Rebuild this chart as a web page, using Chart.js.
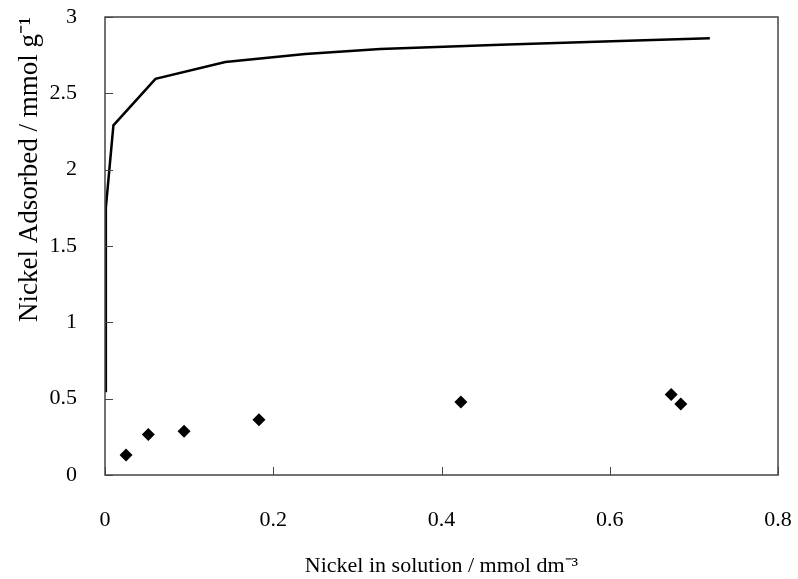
<!DOCTYPE html>
<html>
<head>
<meta charset="utf-8">
<script src="https://cdn.jsdelivr.net/npm/chart.js@4"></script>
<style>
  html, body { margin: 0; padding: 0; background: #fff; }
  #wrap { width: 798px; height: 579px; }
</style>
</head>
<body>
<div id="wrap"><canvas id="chart" width="798" height="579"></canvas></div>
<script>
// isotherm curve
const curveX = [0, 0.001, 0.01, 0.06, 0.143, 0.238, 0.327, 0.47, 0.612, 0.719];
const curveY = [0.55, 1.75, 2.29, 2.595, 2.705, 2.757, 2.79, 2.818, 2.842, 2.86];

// measured points
const pointX = [0.025, 0.0515, 0.094, 0.183, 0.423, 0.673, 0.6845];
const pointY = [0.131, 0.266, 0.286, 0.362, 0.478, 0.528, 0.465];

const xTicks = [0, 0.2, 0.4, 0.6, 0.8];
const yTicks = [0, 0.5, 1, 1.5, 2, 2.5, 3];

const font = 'Liberation Serif';

// inward tick marks + frame around the plot area
const frameTicks = {
    id: 'frameTicks',
    afterDraw(chart) {
        const ctx = chart.ctx;
        const a = chart.chartArea;
        const xs = chart.scales.x, ys = chart.scales.y;
        ctx.save();
        ctx.strokeStyle = '#444';
        ctx.lineWidth = 1.5;
        ctx.strokeRect(a.left, a.top, a.right - a.left, a.bottom - a.top);
        ctx.lineWidth = 1;
        ctx.beginPath();
        xTicks.forEach(v => {
            const px = Math.round(xs.getPixelForValue(v)) + 0.5;
            ctx.moveTo(px, a.bottom);
            ctx.lineTo(px, a.bottom - 8);
        });
        yTicks.forEach(v => {
            const py = Math.round(ys.getPixelForValue(v)) + 0.5;
            ctx.moveTo(a.left, py);
            ctx.lineTo(a.left + 8, py);
        });
        ctx.stroke();
        ctx.restore();
    }
};

new Chart(document.getElementById('chart'), {
    type: 'scatter',
    data: {
        datasets: [{
            type: 'line',
            data: curveX.map((x, i) => ({ x: x, y: curveY[i] })),
            borderColor: '#000',
            borderWidth: 2.5,
            pointRadius: 0,
            tension: 0,
            fill: false
        }, {
            data: pointX.map((x, i) => ({ x: x, y: pointY[i] })),
            pointStyle: 'rectRot',
            pointRadius: 6.5,
            backgroundColor: '#000',
            borderColor: '#000',
            borderWidth: 0
        }]
    },
    options: {
        responsive: false,
        animation: false,
        layout: { padding: { top: 17, right: 20, left: 0, bottom: 0 } },
        plugins: { legend: { display: false }, tooltip: { enabled: false } },
        scales: {
            x: {
                type: 'linear',
                min: 0, max: 0.8,
                afterBuildTicks: s => { s.ticks = xTicks.map(v => ({ value: v })); },
                afterFit: s => {
                    s.height = 104;
                    s.paddingLeft = 0;
                    s.paddingRight = 0;
                },
                grid: { display: false },
                border: { display: false },
                ticks: {
                    color: '#000',
                    font: { family: font, size: 22 },
                    padding: 24,
                    maxRotation: 0,
                    callback: v => String(v)
                },
                title: {
                    display: true,
                    text: 'Nickel in solution / mmol dm\u207B\u00B3',
                    color: '#000',
                    font: { family: font, size: 22 },
                    padding: { top: 10, bottom: 0 }
                }
            },
            y: {
                type: 'linear',
                min: 0, max: 3,
                afterBuildTicks: s => { s.ticks = yTicks.map(v => ({ value: v })); },
                afterFit: s => {
                    s.width = 105;
                    s.paddingTop = 0;
                    s.paddingBottom = 0;
                },
                grid: { display: false },
                border: { display: false },
                ticks: {
                    color: '#000',
                    font: { family: font, size: 22 },
                    padding: 20,
                    callback: v => String(v)
                },
                title: {
                    display: true,
                    align: 'end',
                    text: 'Nickel Adsorbed / mmol g\u207B\u00B9',
                    color: '#000',
                    font: { family: font, size: 27 },
                    padding: { top: 14, bottom: 0 }
                }
            }
        }
    },
    plugins: [frameTicks]
});
</script>
</body>
</html>
